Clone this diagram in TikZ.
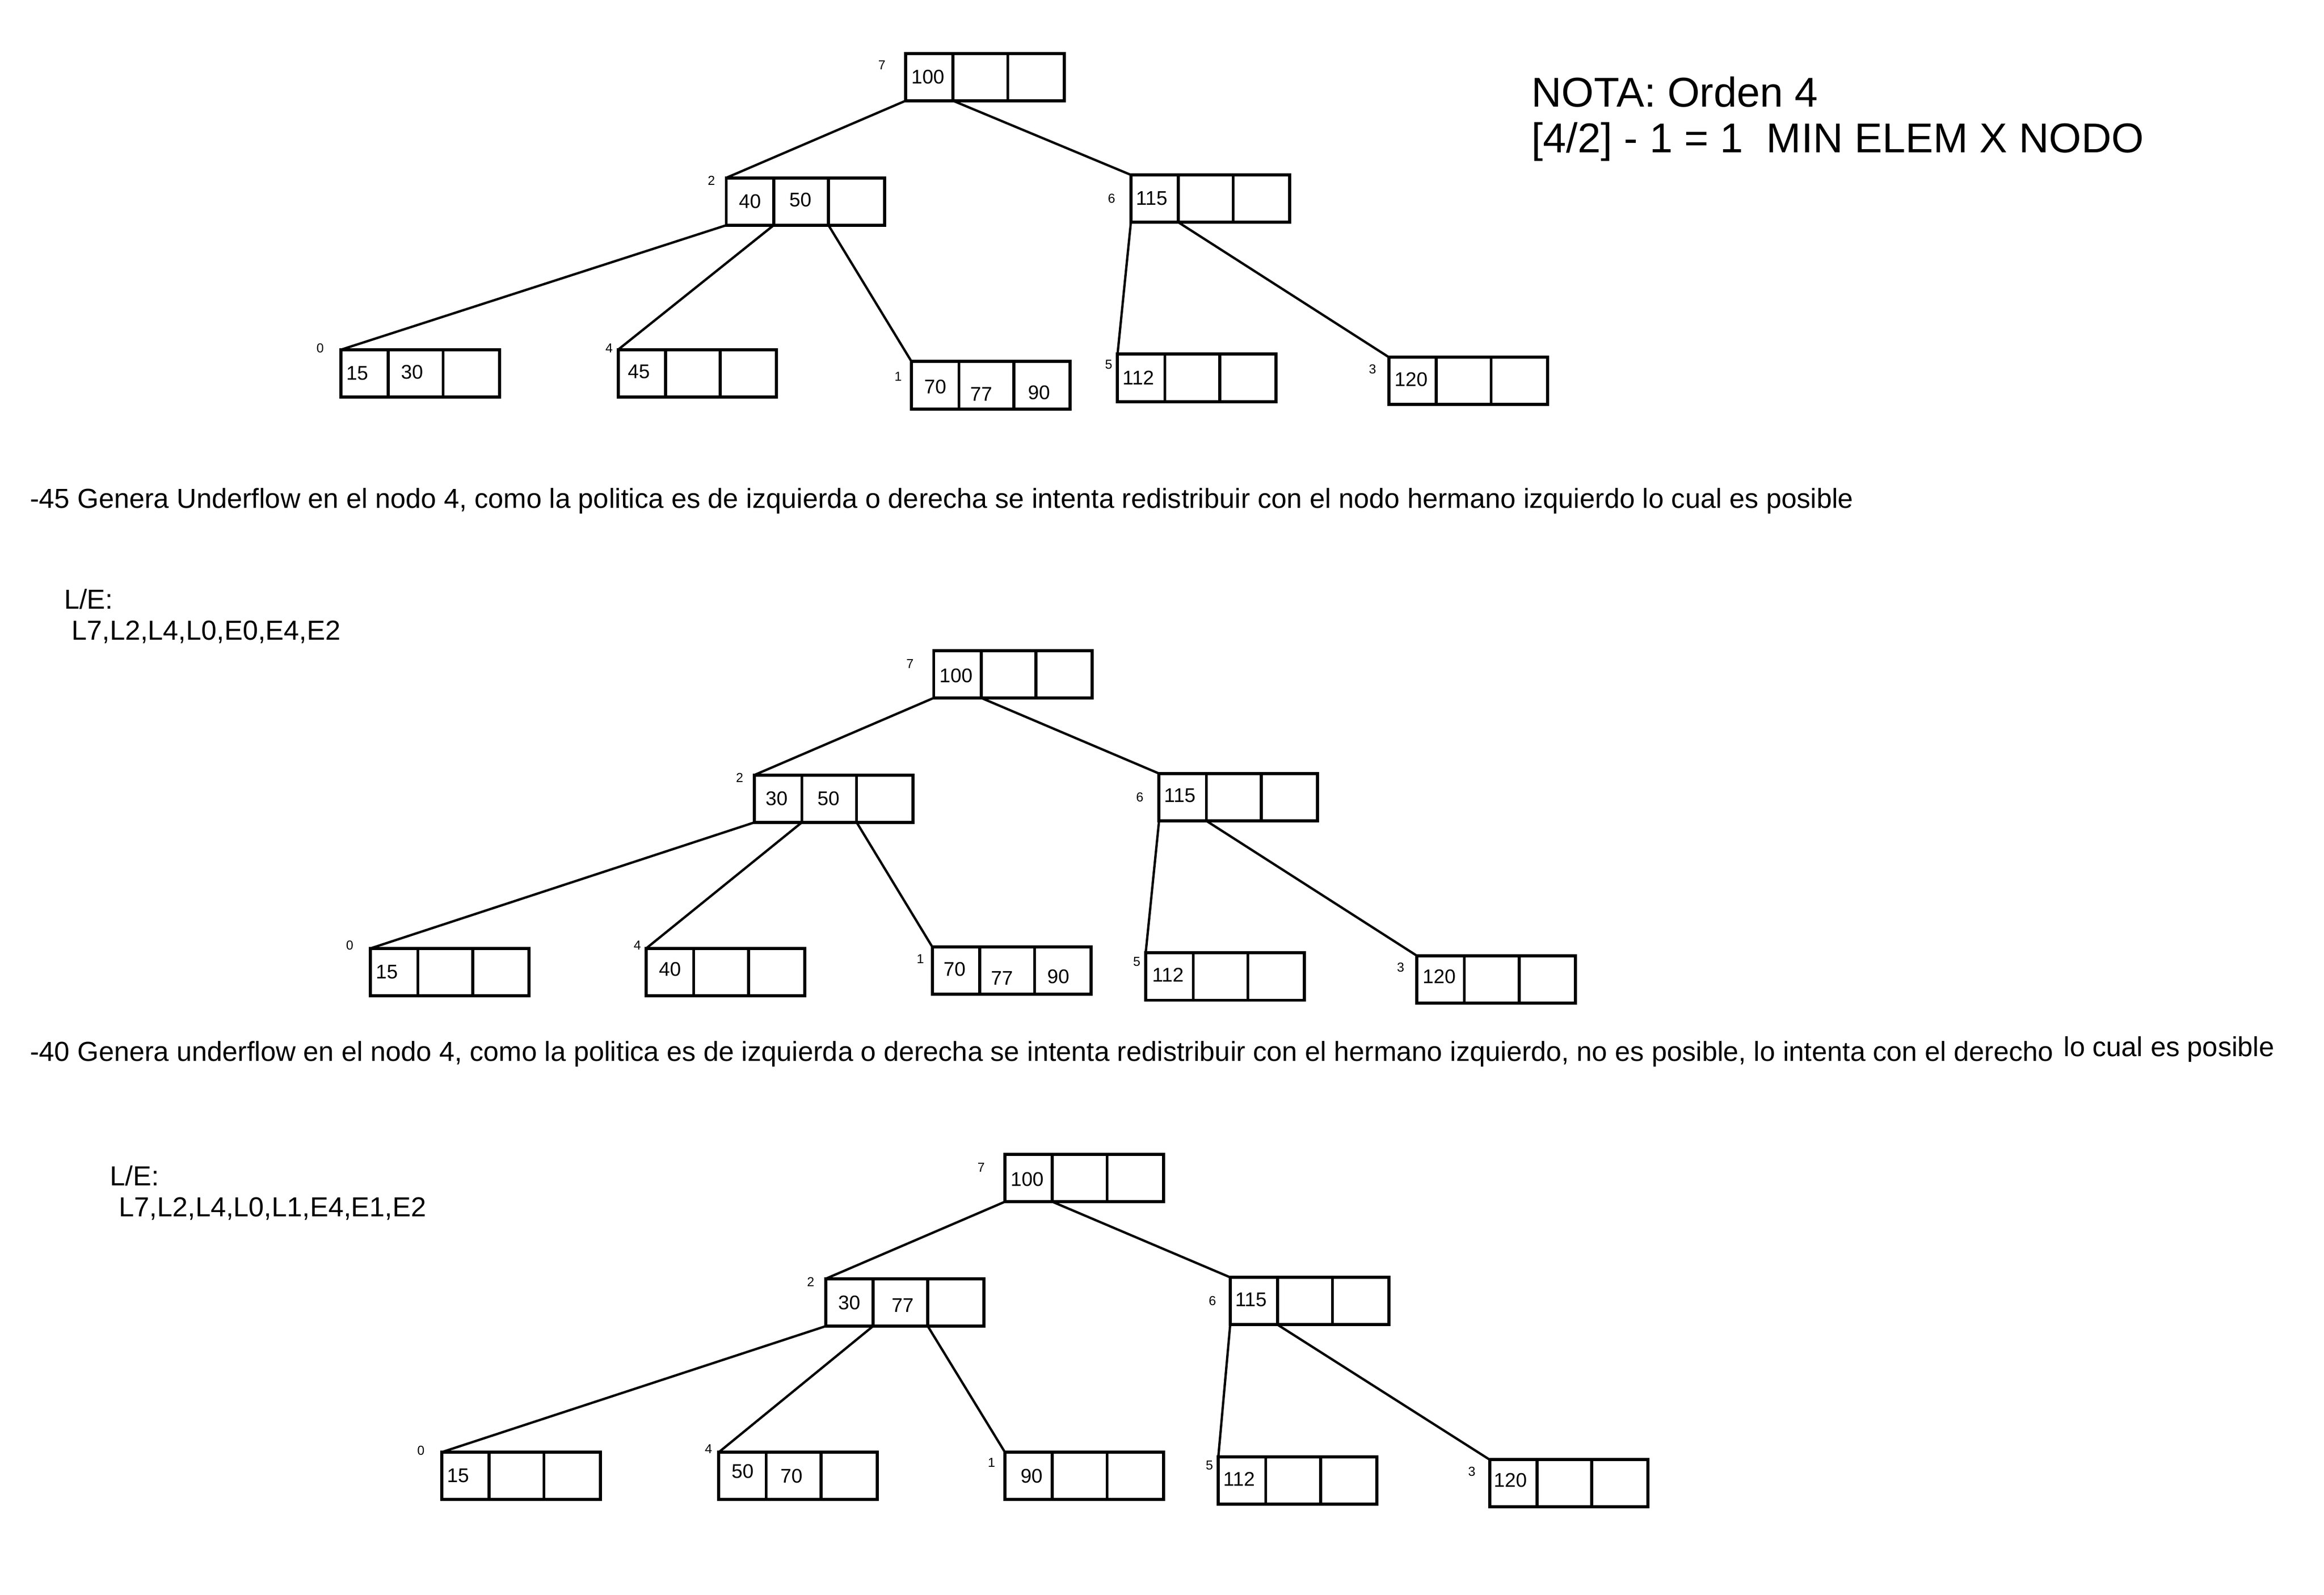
\documentclass[tikz,border=0pt]{standalone}
\usepackage{fontspec}
\setmainfont{Liberation Sans}
\usepackage{tikz}
\tikzset{
  caja/.style={draw, line width=1.2pt, minimum width=2.14cm, minimum height=0.64cm,
    inner sep=0pt, outer sep=0pt, anchor=north west},
  div/.style={line width=1.1pt},
  rama/.style={line width=0.9pt},
  clave/.style={font=\fontsize{7.6}{9}\selectfont, inner sep=0pt},
  etiq/.style={font=\fontsize{5}{6}\selectfont, inner sep=0pt},
  texto/.style={font=\fontsize{10.55}{12}\selectfont, inner sep=0pt, anchor=base west},
  nota/.style={font=\fontsize{16}{19}\selectfont, inner sep=0pt, anchor=base west},
}
% divisiones de las tres celdas
\newcommand{\celdas}[1]{%
  \draw[div] ([xshift=0.64cm]#1.north west) -- ([xshift=0.64cm]#1.south west)
             ([xshift=1.38cm]#1.north west) -- ([xshift=1.38cm]#1.south west);}

\begin{document}
\begin{tikzpicture}[x=0.02cm, y=-0.02cm]
  \fill[white] (0,0) rectangle (1568,1076.05);
  \useasboundingbox (0,0) rectangle (1568,1076.05);

  % arbol inicial
  \node[caja] (a7) at (611,36) {};
  \node[caja] (a2) at (490,120) {};
  \node[caja] (a6) at (763,118) {};
  \node[caja] (a0) at (230,236) {};
  \node[caja] (a4) at (417,236) {};
  \node[caja] (a1) at (615,244) {};
  \node[caja] (a5) at (754,239) {};
  \node[caja] (a3) at (937,241) {};
  \foreach \n in {a7,a2,a6,a0,a4,a1,a5,a3} {\celdas{\n}}

  \draw[rama] (a7.south west) -- (a2.north west);
  \draw[rama] ([xshift=0.64cm]a7.south west) -- (a6.north west);
  \draw[rama] (a2.south west) -- (a0.north west);
  \draw[rama] ([xshift=0.64cm]a2.south west) -- (a4.north west);
  \draw[rama] ([xshift=1.38cm]a2.south west) -- (a1.north west);
  \draw[rama] (a6.south west) -- (a5.north west);
  \draw[rama] ([xshift=0.64cm]a6.south west) -- (a3.north west);

  \node[etiq] (a7e) at (595,44) {7};
  \node[etiq] (a2e) at (480,122) {2};
  \node[etiq] (a6e) at (750,134) {6};
  \node[etiq] (a0e) at (216,235) {0};
  \node[etiq] (a4e) at (411,235) {4};
  \node[etiq] (a1e) at (606,254) {1};
  \node[etiq] (a5e) at (748,246) {5};
  \node[etiq] (a3e) at (926,249) {3};

  \node[clave] (a7k) at (626,52) {100};
  \node[clave] (a2k) at (506,136) {40};
  \node[clave] (a2m) at (540,135) {50};
  \node[clave] (a6k) at (777,134) {115};
  \node[clave] (a0k) at (241,252) {15};
  \node[clave] (a0m) at (278,251) {30};
  \node[clave] (a4k) at (431,251) {45};
  \node[clave] (a1k) at (631,261) {70};
  \node[clave] (a1m) at (662,266) {77};
  \node[clave] (a1n) at (701,265) {90};
  \node[clave] (a5k) at (768,255) {112};
  \node[clave] (a3k) at (952,256) {120};

  \node[nota] (nota1) at (1033,72) {NOTA: Orden 4};
  \node[nota] (nota2) at (1033,103) {[4/2] - 1 = 1\ \ MIN ELEM X NODO};

  \node[texto] (txt1) at (20,343) {-45 Genera Underflow en el nodo 4, como la politica es de izquierda o derecha se intenta redistribuir con el nodo hermano izquierdo lo cual es posible};

  % baja del 45
  \node[texto] (le1) at (43,411) {L/E:};
  \node[texto] (le1b) at (48,432) {L7,L2,L4,L0,E0,E4,E2};

  \node[caja] (b7) at (630,439) {};
  \node[caja] (b2) at (509,523) {};
  \node[caja] (b6) at (782,522) {};
  \node[caja] (b0) at (250,640) {};
  \node[caja] (b4) at (436,640) {};
  \node[caja] (b1) at (629,639) {};
  \node[caja] (b5) at (773,643) {};
  \node[caja] (b3) at (956,645) {};
  \foreach \n in {b7,b2,b6,b0,b4,b1,b5,b3} {\celdas{\n}}

  \draw[rama] (b7.south west) -- (b2.north west);
  \draw[rama] ([xshift=0.64cm]b7.south west) -- (b6.north west);
  \draw[rama] (b2.south west) -- (b0.north west);
  \draw[rama] ([xshift=0.64cm]b2.south west) -- (b4.north west);
  \draw[rama] ([xshift=1.38cm]b2.south west) -- (b1.north west);
  \draw[rama] (b6.south west) -- (b5.north west);
  \draw[rama] ([xshift=0.64cm]b6.south west) -- (b3.north west);

  \node[etiq] (b7e) at (614,448) {7};
  \node[etiq] (b2e) at (499,525) {2};
  \node[etiq] (b6e) at (769,538) {6};
  \node[etiq] (b0e) at (236,638) {0};
  \node[etiq] (b4e) at (430,638) {4};
  \node[etiq] (b1e) at (621,647) {1};
  \node[etiq] (b5e) at (767,649) {5};
  \node[etiq] (b3e) at (945,653) {3};

  \node[clave] (b7k) at (645,456) {100};
  \node[clave] (b2k) at (524,539) {30};
  \node[clave] (b2m) at (559,539) {50};
  \node[clave] (b6k) at (796,537) {115};
  \node[clave] (b0k) at (261,656) {15};
  \node[clave] (b4k) at (452,654) {40};
  \node[clave] (b1k) at (644,654) {70};
  \node[clave] (b1m) at (676,660) {77};
  \node[clave] (b1n) at (714,659) {90};
  \node[clave] (b5k) at (788,658) {112};
  \node[clave] (b3k) at (971,659) {120};

  \node[texto] (txt2) at (20,716) {-40 Genera underflow en el nodo 4, como la politica es de izquierda o derecha se intenta redistribuir con el hermano izquierdo, no es posible, lo intenta con el derecho};
  \node[texto] (txt2b) at (1392,713) {lo cual es posible};

  % baja del 40
  \node[texto] (le2) at (74,800) {L/E:};
  \node[texto] (le2b) at (80,821) {L7,L2,L4,L0,L1,E4,E1,E2};

  \node[caja] (c7) at (678,779) {};
  \node[caja] (c2) at (557,863) {};
  \node[caja] (c6) at (830,862) {};
  \node[caja] (c0) at (298,980) {};
  \node[caja] (c4) at (485,980) {};
  \node[caja] (c1) at (678,980) {};
  \node[caja] (c5) at (822,983) {};
  \node[caja] (c3) at (1005,985) {};
  \foreach \n in {c7,c2,c6,c0,c4,c1,c5,c3} {\celdas{\n}}

  \draw[rama] (c7.south west) -- (c2.north west);
  \draw[rama] ([xshift=0.64cm]c7.south west) -- (c6.north west);
  \draw[rama] (c2.south west) -- (c0.north west);
  \draw[rama] ([xshift=0.64cm]c2.south west) -- (c4.north west);
  \draw[rama] ([xshift=1.38cm]c2.south west) -- (c1.north west);
  \draw[rama] (c6.south west) -- (c5.north west);
  \draw[rama] ([xshift=0.64cm]c6.south west) -- (c3.north west);

  \node[etiq] (c7e) at (662,788) {7};
  \node[etiq] (c2e) at (547,865) {2};
  \node[etiq] (c6e) at (818,878) {6};
  \node[etiq] (c0e) at (284,979) {0};
  \node[etiq] (c4e) at (478,978) {4};
  \node[etiq] (c1e) at (669,987) {1};
  \node[etiq] (c5e) at (816,989) {5};
  \node[etiq] (c3e) at (993,993) {3};

  \node[clave] (c7k) at (693,796) {100};
  \node[clave] (c2k) at (573,879) {30};
  \node[clave] (c2m) at (609,881) {77};
  \node[clave] (c6k) at (844,877) {115};
  \node[clave] (c0k) at (309,996) {15};
  \node[clave] (c4k) at (501,993) {50};
  \node[clave] (c4m) at (534,996) {70};
  \node[clave] (c1k) at (696,996) {90};
  \node[clave] (c5k) at (836,998) {112};
  \node[clave] (c3k) at (1019,999) {120};
\end{tikzpicture}
\end{document}
